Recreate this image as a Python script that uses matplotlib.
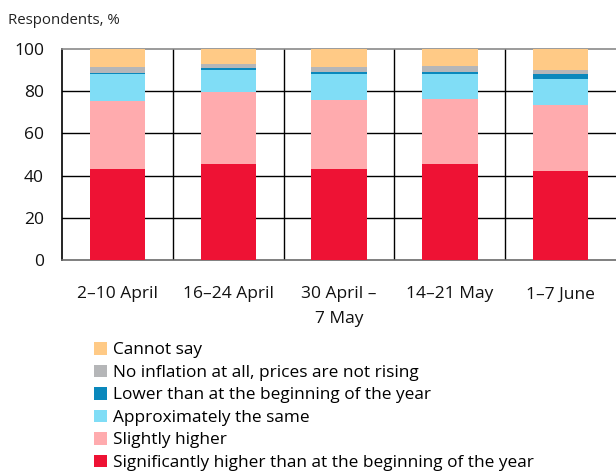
import numpy as np
import matplotlib.pyplot as plt
from matplotlib.patches import Patch

plt.rcParams['font.family'] = ['Open Sans', 'DejaVu Sans']

periods = ["2–10 April", "16–24 April", "30 April –\n7 May", "14–21 May", "1–7 June"]

# shares of respondents, % (bottom to top)
significantly_higher = [43.1, 45.4, 43.2, 45.7, 42.1]
slightly_higher = [32.3, 34.4, 32.5, 30.5, 31.2]
about_same = [12.6, 10.3, 12.3, 12.0, 12.5]
lower = [0.8, 0.9, 1.3, 1.1, 2.5]
no_inflation = [2.8, 2.1, 2.2, 2.8, 1.9]
cannot_say = [8.4, 6.9, 8.5, 7.9, 9.8]

series = [
    ("Significantly higher than at the beginning of the year", significantly_higher, "#EE1234"),
    ("Slightly higher", slightly_higher, "#FFABAE"),
    ("Approximately the same", about_same, "#80DDF6"),
    ("Lower than at the beginning of the year", lower, "#0A88BC"),
    ("No inflation at all, prices are not rising", no_inflation, "#B5B6B8"),
    ("Cannot say", cannot_say, "#FFCA86"),
]

fig = plt.figure(figsize=(6.16, 4.73), dpi=100)
ax = fig.add_axes([62 / 616, 1 - 260 / 473, 1 - 62 / 616, 211 / 473])

x = np.arange(len(periods))
bottom = np.zeros(len(periods))
for name, vals, col in series:
    ax.bar(x, vals, bottom=bottom, width=0.5, color=col, zorder=3)
    bottom += np.array(vals)

ax.set_xlim(-0.5, len(periods) - 0.5)
ax.set_ylim(0, 100)
ax.set_yticks(range(0, 101, 20))
for y in [20, 40, 60, 80]:
    ax.axhline(y, color="black", lw=1, zorder=1)
for xv in x[:-1] + 0.5:
    ax.axvline(xv, color="black", lw=1, zorder=1)

ax.spines["right"].set_visible(False)
ax.spines["left"].set_color("black")
ax.spines["top"].set_color("#8a8a8a")
ax.spines["bottom"].set_color("#6a6a6a")
for s in ["left", "top", "bottom"]:
    ax.spines[s].set_linewidth(1.2)

ax.set_xticks(x)
ax.set_xticklabels(periods, fontsize=12.5, linespacing=1.75)
ax.tick_params(axis="both", length=0, labelsize=12.5, colors="#111111")
ax.tick_params(axis="x", pad=19)
ax.tick_params(axis="y", pad=13)

fig.text(8 / 616, 1 - 20 / 473, "Respondents, %", fontsize=10.8, color="#222222", va="center")

handles = [Patch(facecolor=col, label=name) for name, vals, col in reversed(series)]
fig.legend(handles=handles, loc="upper left", bbox_to_anchor=(94 / 616, 1 - 342 / 473),
           frameon=False, fontsize=12.4, handlelength=0.75, handleheight=0.75,
           handletextpad=0.35, labelspacing=0.36, borderaxespad=0, borderpad=0)

fig.savefig("out.png", dpi=100)
